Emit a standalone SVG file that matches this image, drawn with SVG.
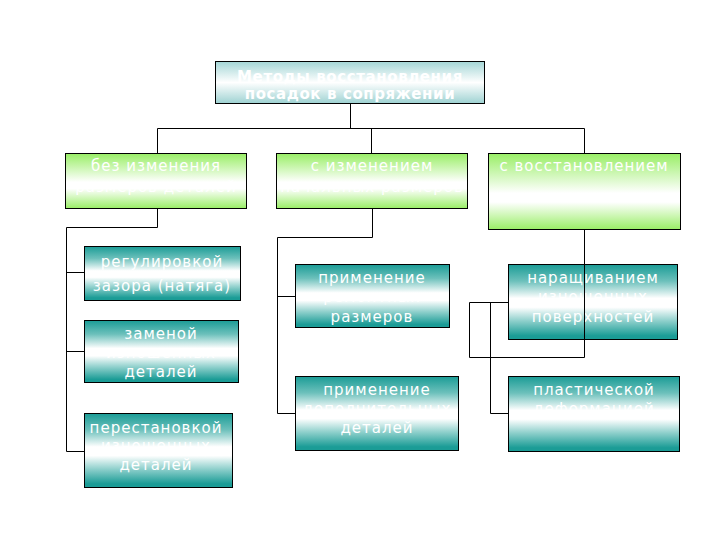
<svg xmlns="http://www.w3.org/2000/svg" width="720" height="540" viewBox="0 0 720 540">
<defs>
<linearGradient id="gTitle" x1="0" y1="0" x2="0" y2="1">
<stop offset="0" stop-color="#a4d6d6"/><stop offset="0.5" stop-color="#ffffff"/><stop offset="1" stop-color="#9ed2d2"/>
</linearGradient>
<linearGradient id="gGreen" x1="0" y1="0" x2="0" y2="1">
<stop offset="0" stop-color="#99ee66"/><stop offset="0.52" stop-color="#ffffff"/><stop offset="0.64" stop-color="#ffffff"/><stop offset="1" stop-color="#99ee66"/>
</linearGradient>
<linearGradient id="gTeal" x1="0" y1="0" x2="0" y2="1">
<stop offset="0" stop-color="#1b9c96"/><stop offset="0.22" stop-color="#6cc0bb"/><stop offset="0.45" stop-color="#ffffff"/><stop offset="0.57" stop-color="#ffffff"/><stop offset="0.75" stop-color="#8fd0cc"/><stop offset="0.95" stop-color="#1b9c96"/><stop offset="1" stop-color="#1b9c96"/>
</linearGradient>
</defs>
<style>
rect{stroke:#000;stroke-width:1}
.t{fill:url(#gTitle)}
.g{fill:url(#gGreen)}
.c{fill:url(#gTeal)}
text{font-family:"DejaVu Sans",sans-serif;font-size:15px;fill:#fff;text-anchor:middle;letter-spacing:1px}
.b{font-weight:bold;font-size:15px;letter-spacing:0.6px}
#conn path{fill:none;stroke:#000;stroke-width:1}
</style>
<rect width="720" height="540" fill="#fff" style="stroke:none"/>
<g id="conn">
<path d="M350.5 103V128.5M157.5 153V128.5H584.5V153M371.5 128.5V153"/>
<path d="M157.5 208V227.5H66.5V451.5H84M66.5 272.5H84M66.5 351.5H84"/>
<path d="M372.5 208V237.5H277.5V413.5H295M277.5 296.5H295"/>
<path d="M584.5 229V357.5H469.5V302.5H508M490.5 302.5V413.5H508"/>
</g>
<g id="title"><rect class="t" x="215.5" y="61.5" width="269" height="42"/>
<text class="b" x="350" y="82">Методы восстановления</text><text class="b" x="350" y="99">посадок в сопряжении</text></g>
<g id="n1"><rect class="g" x="65.5" y="153.5" width="181" height="55"/>
<text x="156" y="171">без изменения</text><text x="156" y="192">размеров деталей</text></g>
<g id="n2"><rect class="g" x="276.5" y="153.5" width="191" height="55"/>
<text x="372" y="171">с изменением</text><text x="372" y="192">начальных размеров</text></g>
<g id="n3"><rect class="g" x="488.5" y="153.5" width="192" height="76"/>
<text x="584" y="171">с восстановлением</text></g>
<g id="l1"><rect class="c" x="84.5" y="246.5" width="156" height="54"/>
<text x="162" y="267">регулировкой</text><text x="162" y="291">зазора (натяга)</text></g>
<g id="l2"><rect class="c" x="84.5" y="320.5" width="154" height="62"/>
<text x="161" y="339">заменой</text><text x="161" y="358">изношенных</text><text x="161" y="377">деталей</text></g>
<g id="l3"><rect class="c" x="84.5" y="413.5" width="148" height="74"/>
<text x="156" y="433">перестановкой</text><text x="156" y="451">изношенных</text><text x="156" y="470">деталей</text></g>
<g id="m1"><rect class="c" x="295.5" y="264.5" width="154" height="63"/>
<text x="372" y="283">применение</text><text x="372" y="302">ремонтных</text><text x="372" y="322">размеров</text></g>
<g id="m2"><rect class="c" x="295.5" y="376.5" width="163" height="74"/>
<text x="377" y="395">применение</text><text x="377" y="414">дополнительных</text><text x="377" y="433">деталей</text></g>
<g id="r1"><rect class="c" x="508.5" y="264.5" width="169" height="75"/>
<text x="593" y="283">наращиванием</text><text x="593" y="302">изношенных</text><text x="593" y="322">поверхностей</text></g>
<g id="r2"><rect class="c" x="508.5" y="376.5" width="171" height="75"/>
<text x="594" y="395">пластической</text><text x="594" y="414">деформацией</text></g>
<path d="M584.5 264V339.5" fill="none" stroke="#000"/>
</svg>
